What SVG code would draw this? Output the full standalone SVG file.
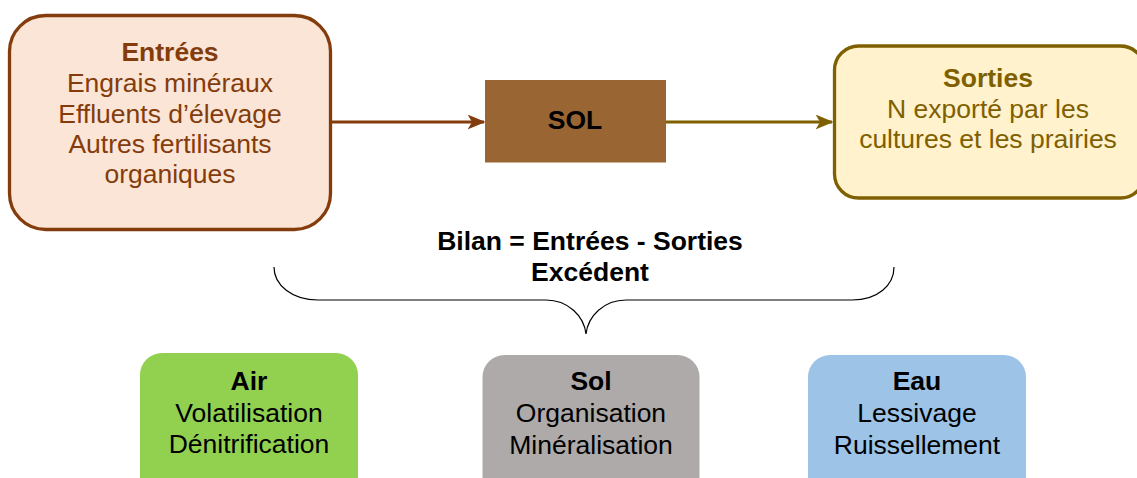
<svg xmlns="http://www.w3.org/2000/svg" width="1137" height="478" viewBox="0 0 1137 478">
<style>
text { font-family: "Liberation Sans", Arial, sans-serif; font-size: 26.5px; text-anchor: middle; }
.b { font-weight: bold; }
.brown { fill: #843c0c; }
.olive { fill: #7f6000; }
.blk { fill: #000000; }
</style>
<defs>
<marker id="ahB" viewBox="0 0 12 10" refX="11" refY="5" markerWidth="6" markerHeight="5" markerUnits="strokeWidth" orient="auto">
<path d="M0,0 L12,5 L0,10 L3,5 Z" fill="#843c0c"/>
</marker>
<marker id="ahO" viewBox="0 0 12 10" refX="11" refY="5" markerWidth="6" markerHeight="5" markerUnits="strokeWidth" orient="auto">
<path d="M0,0 L12,5 L0,10 L3,5 Z" fill="#7f6000"/>
</marker>
</defs>
<rect width="1137" height="478" fill="#ffffff"/>
<g id="connectors">
<line x1="332" y1="122" x2="484" y2="122" stroke="#843c0c" stroke-width="3" marker-end="url(#ahB)"/>
<line x1="666" y1="122" x2="832" y2="122" stroke="#7f6000" stroke-width="3" marker-end="url(#ahO)"/>
<path d="M274,267 C274,285 292,300 318,300 L546,300 C568,300 584,316 586,334 C588,316 604,300 626,300 L852,300 C878,300 894,285 894,267" fill="none" stroke="#000000" stroke-width="1.2"/>
</g>
<g id="entrees">
<rect x="9.5" y="15.5" width="321" height="214" rx="36" fill="#fbe5d6" stroke="#843c0c" stroke-width="3.3"/>
<text x="170" y="61" class="b brown">Entrées</text>
<text x="170" y="92" class="brown">Engrais minéraux</text>
<text x="170" y="122.5" class="brown">Effluents d’élevage</text>
<text x="170" y="153" class="brown">Autres fertilisants</text>
<text x="170" y="183" class="brown">organiques</text>
</g>
<g id="sol">
<rect x="485" y="80" width="181" height="82.5" fill="#996633"/>
<text x="575" y="129" class="b blk">SOL</text>
</g>
<g id="sorties">
<rect x="834.5" y="46" width="310" height="152" rx="24" fill="#fff2cc" stroke="#7f6000" stroke-width="3.3"/>
<text x="988" y="87" class="b olive">Sorties</text>
<text x="988" y="118" class="olive">N exporté par les</text>
<text x="988" y="148" class="olive">cultures et les prairies</text>
</g>
<g id="bilan">
<text x="590" y="250" class="b blk">Bilan = Entrées - Sorties</text>
<text x="590" y="281" class="b blk">Excédent</text>
</g>
<g id="air">
<rect x="140" y="353" width="218" height="150" rx="22" fill="#92d050"/>
<text x="249" y="390" class="b blk">Air</text>
<text x="249" y="422" class="blk">Volatilisation</text>
<text x="249" y="453" class="blk">Dénitrification</text>
</g>
<g id="sol-bas">
<rect x="482.5" y="355" width="217" height="150" rx="22" fill="#aeaaaa"/>
<text x="591" y="390" class="b blk">Sol</text>
<text x="591" y="422" class="blk">Organisation</text>
<text x="591" y="454" class="blk">Minéralisation</text>
</g>
<g id="eau">
<rect x="808" y="355" width="218" height="150" rx="22" fill="#9dc3e6"/>
<text x="917" y="390" class="b blk">Eau</text>
<text x="917" y="422" class="blk">Lessivage</text>
<text x="917" y="454" class="blk">Ruissellement</text>
</g>
</svg>
